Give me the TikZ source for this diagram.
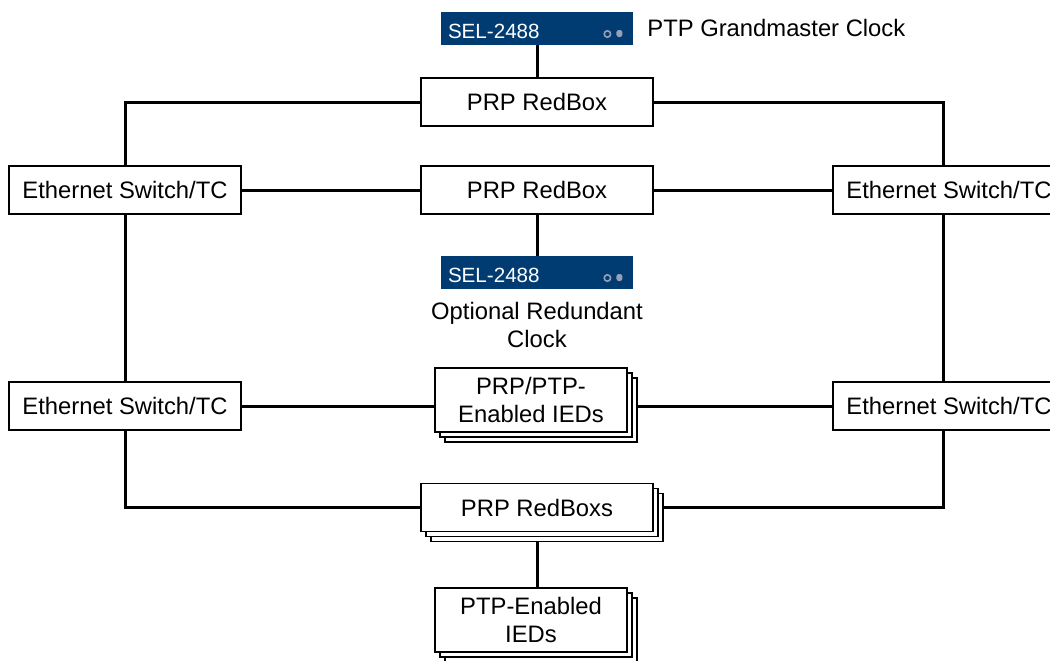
\documentclass[tikz,border=0pt]{standalone}
\usepackage{fontspec}
\setmainfont{Liberation Sans}
\usetikzlibrary{shadows,backgrounds,calc}

\definecolor{selblue}{RGB}{0,59,114}
\definecolor{selgray}{RGB}{150,160,182}

\tikzset{
  unitbox/.style={draw, line width=0.8pt, fill=white, minimum width=116pt, minimum height=24pt, font=\fontsize{11.9}{14.3}\selectfont},
  iedbox/.style={unitbox, minimum width=96pt, minimum height=32pt, align=center},
  stacked/.style={copy shadow={shadow xshift=5pt, shadow yshift=-5pt, draw, fill=white, line width=0.9pt},
                  copy shadow={shadow xshift=2.5pt, shadow yshift=-2.5pt, draw, fill=white, line width=0.9pt}},
  clockbox/.style={fill=selblue, text=white, minimum height=16.5pt, text width=89pt, inner xsep=3.5pt, inner ysep=2pt,
                   text height=10pt, text depth=0pt, align=left, font=\fontsize{10.3}{12}\selectfont},
  plain/.style={font=\fontsize{11.9}{14}\selectfont},
  link/.style={line width=1.5pt}
}

\begin{document}
\begin{tikzpicture}[x=0.5pt, y=-0.5pt]
\useasboundingbox (0,0) rectangle (1050,660);

% clocks
\node[clockbox] (sel1) at (537,28.5) {SEL-2488};
\node[clockbox] (sel2) at (537,272.5) {SEL-2488};
\foreach \s in {sel1,sel2} {
    \draw[selgray, line width=0.8pt] ($(\s.east)+(-26,5.5)$) circle[radius=1.6pt];
    \fill[selgray, rounded corners=1.2pt] ($(\s.east)+(-17,8.5)$) rectangle ($(\s.east)+(-11,1.5)$);
}
\node[plain, anchor=west, inner xsep=0pt] (gmlabel) at (647,28) {PTP Grandmaster Clock};
\node[plain, align=center] (optlabel) at (537,325) {Optional Redundant\\Clock};

% switches and redboxes
\begin{scope}[every node/.style={unitbox}]
    \node (rb1) at (537,102) {PRP RedBox};
    \node (lsw1) at (125,190) {Ethernet Switch/TC};
    \node (rb2) at (537,190) {PRP RedBox};
    \node (rsw1) at (949,190) {Ethernet Switch/TC};
    \node (lsw2) at (125,406) {Ethernet Switch/TC};
    \node (rsw2) at (949,406) {Ethernet Switch/TC};
    \node[stacked] (rbs) at (537,507.5) {PRP RedBoxs};
\end{scope}

% IED groups
\node[iedbox, stacked] (ied1) at (531,400) {PRP/PTP-\\Enabled IEDs};
\node[iedbox, stacked] (ied2) at (531,620) {PTP-Enabled\\IEDs};

% links
\begin{scope}[on background layer, every path/.style={link}]
    \draw (sel1.south) -- (rb1.north);
    \draw (rb1.west) -| (lsw1.north);
    \draw (rb1.east) -| ([xshift=-3pt]rsw1.north);
    \draw (lsw1) -- (rb2);
    \draw (rb2) -- (rsw1);
    \draw (rb2.south) -- (sel2.north);
    \draw (lsw1.south) -- (lsw2.north);
    \draw ([xshift=-3pt]rsw1.south) -- ([xshift=-3pt]rsw2.north);
    \draw (lsw2.east) -- (lsw2.east -| ied1.east);
    \draw (rsw2.west) -- (rsw2.west -| ied1.west);
    \draw (lsw2.south) |- (rbs.west);
    \draw ([xshift=-3pt]rsw2.south) |- (rbs.east);
    \draw (rbs.south) -- (rbs.south |- ied2.north);
\end{scope}
\end{tikzpicture}
\end{document}
